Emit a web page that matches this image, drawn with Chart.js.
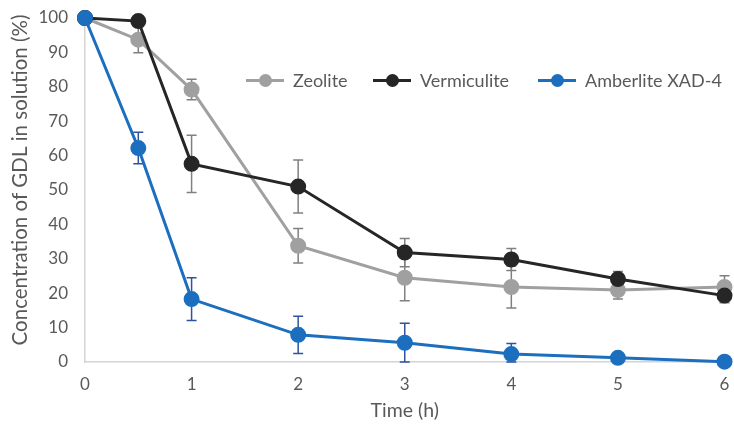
<!DOCTYPE html>
<html><head><meta charset="utf-8">
<script src="https://cdn.jsdelivr.net/npm/chart.js@4.4.1/dist/chart.umd.min.js"></script>
<style>
html,body{margin:0;padding:0;background:#fff;}
#wrap{position:relative;width:734px;height:430px;}
.li{position:absolute;display:flex;align-items:center;height:24px;font-family:Lato,"Open Sans",sans-serif;font-size:18px;color:#595959;white-space:nowrap;}
.sw{position:relative;width:38px;height:24px;margin-right:9px;}
.sw .ln{position:absolute;left:0;right:0;top:10.5px;height:3px;}
.sw .dt{position:absolute;left:12.5px;top:5.5px;width:13px;height:13px;border-radius:50%;}
</style></head>
<body><div id="wrap"><canvas id="c" width="734" height="430"></canvas></div>
<script>
const times = [0, 0.5, 1, 2, 3, 4, 5, 6];
const seriesNames = ["Zeolite", "Vermiculite", "Amberlite XAD-4"];
const zeolite = [100, 93.7, 79.2, 33.8, 24.5, 21.8, 20.9, 21.8];
const zeoliteErr = [0, 3.8, 3.0, 5.0, 6.7, 6.1, 2.6, 3.3];
const vermiculite = [100, 99.1, 57.6, 51.0, 31.8, 29.8, 24.1, 19.3];
const vermiculiteErr = [0, 0, 8.3, 7.7, 4.1, 3.2, 2.2, 2.1];
const amberlite = [100, 62.2, 18.3, 7.9, 5.6, 2.3, 1.2, 0.1];
const amberliteErr = [0, 4.6, 6.2, 5.4, 5.7, 3.1, 0, 0];
const yTicks = [0,10,20,30,40,50,60,70,80,90,100];
const xTicks = [0,1,2,3,4,5,6];
const yTitle = "Concentration of GDL in solution (%)";
const xTitle = "Time (h)";

const colors = ["#a0a0a0", "#262626", "#1c6ebe"];
const errColors = ["#808080", "#808080", "#2f52a0"];
const values = [zeolite, vermiculite, amberlite];
const errs = [zeoliteErr, vermiculiteErr, amberliteErr];

const datasets = values.map((v, i) => ({
  label: seriesNames[i],
  data: times.map((t, k) => ({x: t, y: v[k]})),
  borderColor: colors[i],
  backgroundColor: colors[i],
  pointBackgroundColor: colors[i],
  pointBorderColor: colors[i],
  borderWidth: 3,
  pointRadius: 6.5,
  pointHoverRadius: 6.5,
  tension: 0,
  clip: false,
  order: 3 - i,
  errors: errs[i],
  errColor: errColors[i]
}));

const fam = "Lato, 'Open Sans', sans-serif";

const errorBars = {
  id: 'errorBars',
  beforeDatasetsDraw(chart) {
    const ctx = chart.ctx;
    const xs = chart.scales.x, ys = chart.scales.y;
    ctx.save();
    chart.data.datasets.forEach((ds) => {
      ctx.strokeStyle = ds.errColor;
      ctx.lineWidth = 1.5;
      ds.data.forEach((p, k) => {
        const e = ds.errors[k];
        if (!e) return;
        const px = xs.getPixelForValue(p.x);
        const lo = Math.max(0, p.y - e);
        const t = ys.getPixelForValue(p.y + e);
        const b = ys.getPixelForValue(lo);
        ctx.beginPath();
        ctx.moveTo(px, t); ctx.lineTo(px, b);
        ctx.moveTo(px - 5, t); ctx.lineTo(px + 5, t);
        ctx.moveTo(px - 5, b); ctx.lineTo(px + 5, b);
        ctx.stroke();
      });
    });
    ctx.restore();
  }
};

const yTitlePlugin = {
  id: 'yTitlePlugin',
  afterDraw(chart) {
    const ctx = chart.ctx;
    ctx.save();
    ctx.translate(20, 180);
    ctx.rotate(-Math.PI / 2);
    ctx.fillStyle = '#595959';
    ctx.font = "20.5px " + fam;
    ctx.textAlign = 'center';
    ctx.textBaseline = 'middle';
    ctx.fillText(yTitle, 0, 0);
    ctx.restore();
  }
};

const tickFont = {family: fam, size: 17};
const titleFont = {family: fam, size: 19.5};
new Chart(document.getElementById('c'), {
  type: 'line',
  data: {datasets},
  options: {
    responsive: false,
    animation: false,
    layout: {padding: {top: 18, right: 8, left: 0, bottom: 0}},
    plugins: {legend: {display: false}, tooltip: {enabled: false}},
    scales: {
      x: {
        type: 'linear', min: 0, max: 6,
        afterBuildTicks: (s) => { s.ticks = xTicks.map(v => ({value: v})); },
        afterFit: (s) => { s.height = 68; s.paddingLeft = 0; s.paddingRight = 0; },
        grid: {display: false, drawTicks: false},
        border: {display: true, color: '#d4d4d4', width: 1.5},
        ticks: {color: '#595959', font: tickFont, padding: 12},
        title: {display: true, text: xTitle, color: '#595959', font: titleFont, padding: 8}
      },
      y: {
        min: 0, max: 100,
        afterBuildTicks: (s) => { s.ticks = yTicks.map(v => ({value: v})); },
        afterFit: (s) => { s.width = 85; s.paddingTop = 0; s.paddingBottom = 0; },
        grid: {display: false, drawTicks: false},
        border: {display: true, color: '#d4d4d4', width: 1.5},
        ticks: {color: '#595959', font: tickFont, padding: 17},
        title: {display: false}
      }
    }
  },
  plugins: [errorBars, yTitlePlugin]
});

const legendLeft = [246, 373, 538];
const wrap = document.getElementById('wrap');
seriesNames.forEach((n, i) => {
  const d = document.createElement('div'); d.className = 'li';
  d.style.left = legendLeft[i] + 'px'; d.style.top = '68px';
  d.innerHTML = '<div class="sw"><div class="ln" style="background:' + colors[i] + '"></div><div class="dt" style="background:' + colors[i] + '"></div></div><span>' + n + '</span>';
  wrap.appendChild(d);
});
</script></body></html>
